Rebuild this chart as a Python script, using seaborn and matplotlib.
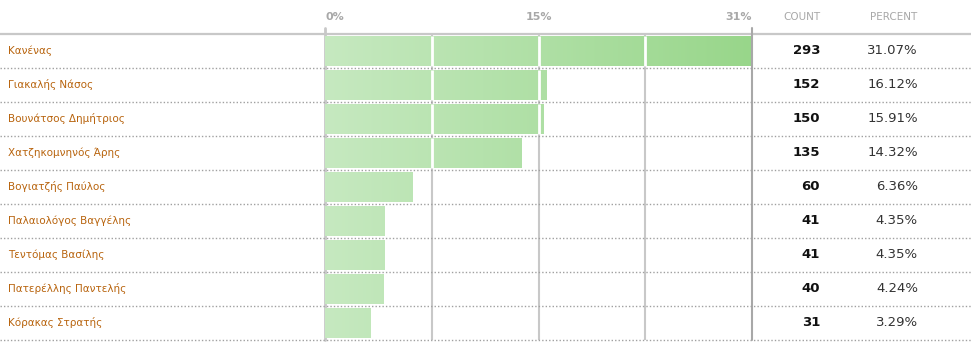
import numpy as np
import matplotlib
matplotlib.use("Agg")
import matplotlib.pyplot as plt
import matplotlib.transforms as mtransforms
from matplotlib.colors import LinearSegmentedColormap
import seaborn as sns

# ----- data ----- #
names = ["Κανένας", "Γιακαλής Νάσος", "Βουνάτσος Δημήτριος", "Χατζηκομνηνός Άρης",
         "Βογιατζής Παύλος", "Παλαιολόγος Βαγγέλης", "Τεντόμας Βασίλης",
         "Πατερέλλης Παντελής", "Κόρακας Στρατής"]
counts = [293, 152, 150, 135, 60, 41, 41, 40, 31]
percents = [31.07, 16.12, 15.91, 14.32, 6.36, 4.35, 4.35, 4.24, 3.29]
tick_labels = ["0%", "15%", "31%"]

sns.set_theme(style="white")
plt.rcParams['font.family'] = ['DejaVu Sans']

W, H = 971, 364
fig = plt.figure(figsize=(W / 100, H / 100), dpi=100)

# background axes in pixel coordinates for the table decoration
bg = fig.add_axes([0, 0, 1, 1])
bg.set_xlim(0, W)
bg.set_ylim(H, 0)
bg.axis("off")

# bar axes: 0% at x=325, max at x=752, rows between y=34 and y=340
x0, x1, y0, y1 = 325, 752, 34, 340
ax = fig.add_axes([x0 / W, 1 - y1 / H, (x1 - x0) / W, (y1 - y0) / H])
ax.patch.set_alpha(0)

xmax = max(percents)
sns.barplot(x=percents, y=names, orient="h", width=0.91, ax=ax,
            color="#b5e2ab", linewidth=0, zorder=2)
ax.set_xlim(0, xmax)
ax.set_ylim(len(names) - 0.5, -0.5)
ax.axis("off")

# gradient fill of bars
cmap = LinearSegmentedColormap.from_list("grn", ["#c6e9c0", "#98d68a"])
grad = np.linspace(0, 1, 256).reshape(1, -1)
for p in ax.patches:
    y_top = p.get_y()
    y_bot = p.get_y() + p.get_height()
    im = ax.imshow(grad, cmap=cmap, aspect="auto", extent=(0, xmax, y_bot, y_top),
                   zorder=2.5)
    im.set_clip_path(p)
    p.set_facecolor("none")
ax.set_xlim(0, xmax)
ax.set_ylim(len(names) - 0.5, -0.5)

# vertical grid lines (quarters of the axis)
grid_x = np.linspace(0, xmax, 5)
for gx in grid_x[1:-1]:
    ax.axvline(gx, color="#c8c8c8", lw=1.5, zorder=1)
    # white gap where the line crosses a bar
    for p, v in zip(ax.patches, percents):
        if v > gx:
            ax.plot([gx, gx], [p.get_y(), p.get_y() + p.get_height()],
                    color="white", lw=2, zorder=3, solid_capstyle="butt")
ax.plot([0, 0], [-0.5 - 6 / 34, len(names) - 0.5], color="#c8c8c8", lw=2,
        clip_on=False, zorder=1)
ax.plot([xmax, xmax], [-0.5 - 6 / 34, len(names) - 0.5], color="#a8a8a8", lw=1.5,
        clip_on=False, zorder=4)

# header line and dotted row separators over the full width
row_tr = mtransforms.blended_transform_factory(bg.transData, ax.transData)
bg.plot([0, W], [y0, y0], color="#c8c8c8", lw=1.6)
for i in range(len(names)):
    ax.plot([0, W], [i + 0.5, i + 0.5], transform=row_tr, color="#a0a0a0",
            lw=1, ls=(0, (1, 1.5)), clip_on=False, zorder=5)

# header texts
hdr_tr = mtransforms.blended_transform_factory(ax.transData, bg.transData)
tick_pos = [0, grid_x[2], xmax]
for tx, lab, ha in zip(tick_pos, tick_labels, ["left", "center", "right"]):
    ax.text(tx, 17, lab, transform=hdr_tr, ha=ha, va="center", fontsize=8,
            fontweight="bold", color="#a8a8a8")
bg.text(820, 17, "COUNT", ha="right", va="center", fontsize=7.5, color="#a8a8a8")
bg.text(917, 17, "PERCENT", ha="right", va="center", fontsize=7.5, color="#a8a8a8")

# row texts
for i, (n, c, pc) in enumerate(zip(names, counts, percents)):
    ax.text(8, i, n, transform=row_tr, ha="left", va="center", fontsize=7.5,
            color="#b8640e")
    ax.text(820, i, str(c), transform=row_tr, ha="right", va="center", fontsize=9.5,
            fontweight="bold", color="#111111")
    ax.text(918, i, f"{pc:.2f}%", transform=row_tr, ha="right", va="center",
            fontsize=9.5, color="#333333")

fig.savefig("out.png", dpi=100, facecolor="white")
